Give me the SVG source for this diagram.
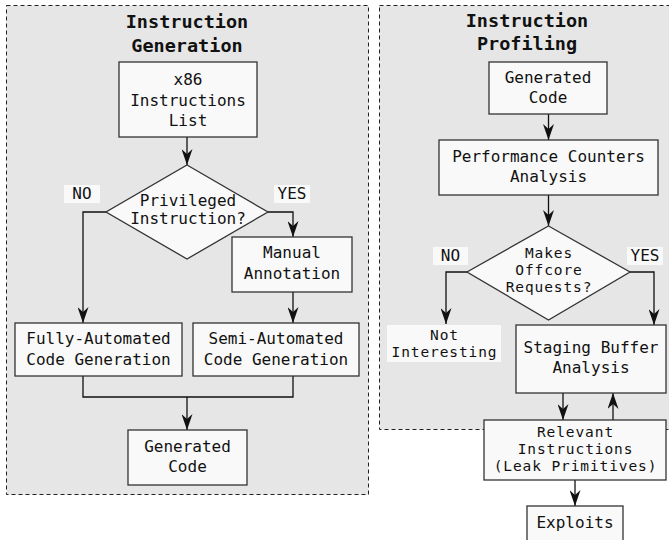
<svg xmlns="http://www.w3.org/2000/svg" width="669" height="540" viewBox="0 0 669 540">
<style>
.panel{fill:#e6e6e6;stroke:#222;stroke-width:1;stroke-dasharray:4,3}
.box{fill:#f9f9f9;stroke:#333;stroke-width:1.3}
.lbl{fill:#f9f9f9;stroke:none}
text{font-family:"DejaVu Sans Mono","Liberation Mono",monospace;font-size:16px;fill:#111;text-anchor:middle}
.title{font-weight:bold;font-size:18.5px}
.tight{font-size:14.5px;letter-spacing:0.9px}
.edge{fill:none;stroke:#111;stroke-width:1.3}
</style>
<defs>
<marker id="arr" viewBox="0 0 16 11" refX="16" refY="5.5" markerWidth="16" markerHeight="11" markerUnits="userSpaceOnUse" orient="auto">
<path d="M16,5.5 L0,0 L5,5.5 L0,11 Z" fill="#111"/>
</marker>
</defs>
<g id="panel-generation">
<rect class="panel" x="6.5" y="5.5" width="362" height="489"/>
<text class="title" x="187" y="28">Instruction</text>
<text class="title" x="187" y="52">Generation</text>
</g>
<g id="panel-profiling">
<rect class="panel" x="379.5" y="5.5" width="300" height="424"/>
<text class="title" x="527" y="27">Instruction</text>
<text class="title" x="527" y="50">Profiling</text>
</g>
<g id="connectors">
<path class="edge" d="M187,137 V165" marker-end="url(#arr)"/>
<path class="edge" d="M106,212 H83 V323" marker-end="url(#arr)"/>
<path class="edge" d="M268,212 H293 V237" marker-end="url(#arr)"/>
<path class="edge" d="M293,292 V323" marker-end="url(#arr)"/>
<path class="edge" d="M83,376 V397 H293 V376"/>
<path class="edge" d="M187,397 V430" marker-end="url(#arr)"/>
<path class="edge" d="M548.5,114 V140" marker-end="url(#arr)"/>
<path class="edge" d="M548.5,195 V226" marker-end="url(#arr)"/>
<path class="edge" d="M467,272 H446 V324" marker-end="url(#arr)"/>
<path class="edge" d="M630,272 H654 V325" marker-end="url(#arr)"/>
<path class="edge" d="M563,393 V420" marker-end="url(#arr)"/>
<path class="edge" d="M613,420 V393" marker-end="url(#arr)"/>
<path class="edge" d="M575,480 V506" marker-end="url(#arr)"/>
</g>
<g id="x86-list">
<rect class="box" x="119" y="62" width="138" height="75"/>
<text x="188" y="85">x86</text>
<text x="188" y="106">Instructions</text>
<text x="188" y="126">List</text>
</g>
<g id="privileged">
<polygon class="box" points="187,165 268,212 187,259 106,212"/>
<text x="188" y="206">Privileged</text>
<text x="188" y="224">Instruction?</text>
</g>
<g id="label-no-1">
<rect class="lbl" x="64" y="185" width="36" height="18"/>
<text x="82" y="199">NO</text>
</g>
<g id="label-yes-1">
<rect class="lbl" x="274" y="185" width="36" height="18"/>
<text x="292" y="199">YES</text>
</g>
<g id="manual">
<rect class="box" x="232" y="237" width="120" height="55"/>
<text x="292" y="258">Manual</text>
<text x="292" y="279">Annotation</text>
</g>
<g id="fully">
<rect class="box" x="15" y="323" width="167" height="53"/>
<text x="98.5" y="344">Fully-Automated</text>
<text x="98.5" y="365">Code Generation</text>
</g>
<g id="semi">
<rect class="box" x="193" y="323" width="166" height="53"/>
<text x="276" y="344">Semi-Automated</text>
<text x="276" y="365">Code Generation</text>
</g>
<g id="generated-left">
<rect class="box" x="128" y="430" width="119" height="55"/>
<text x="187.5" y="452">Generated</text>
<text x="187.5" y="472">Code</text>
</g>
<g id="generated-right">
<rect class="box" x="489" y="62" width="118" height="52"/>
<text x="548" y="83">Generated</text>
<text x="548" y="103">Code</text>
</g>
<g id="perf">
<rect class="box" x="439" y="140" width="219" height="55"/>
<text x="548.5" y="162">Performance Counters</text>
<text x="548.5" y="182">Analysis</text>
</g>
<g id="offcore">
<polygon class="box" points="548.5,226 630,272 548.5,320 467,272"/>
<text class="tight" x="549" y="258">Makes</text>
<text class="tight" x="549" y="275">Offcore</text>
<text class="tight" x="549" y="292">Requests?</text>
</g>
<g id="label-no-2">
<rect class="lbl" x="433" y="247" width="35" height="18"/>
<text x="450.5" y="261">NO</text>
</g>
<g id="label-yes-2">
<rect class="lbl" x="627" y="247" width="36" height="18"/>
<text x="645" y="261">YES</text>
</g>
<g id="not-interesting">
<rect class="lbl" x="387" y="325" width="114" height="37"/>
<text class="tight" x="444.5" y="340">Not</text>
<text class="tight" x="444.5" y="357">Interesting</text>
</g>
<g id="staging">
<rect class="box" x="516" y="325" width="150" height="68"/>
<text x="591" y="353">Staging Buffer</text>
<text x="591" y="373">Analysis</text>
</g>
<g id="relevant">
<rect class="box" x="484" y="420" width="182" height="60"/>
<text class="tight" x="575.5" y="437">Relevant</text>
<text class="tight" x="575.5" y="454">Instructions</text>
<text class="tight" x="575.5" y="471">(Leak Primitives)</text>
</g>
<g id="exploits">
<rect class="box" x="527" y="506" width="96" height="44"/>
<text x="575" y="528">Exploits</text>
</g>
</svg>
